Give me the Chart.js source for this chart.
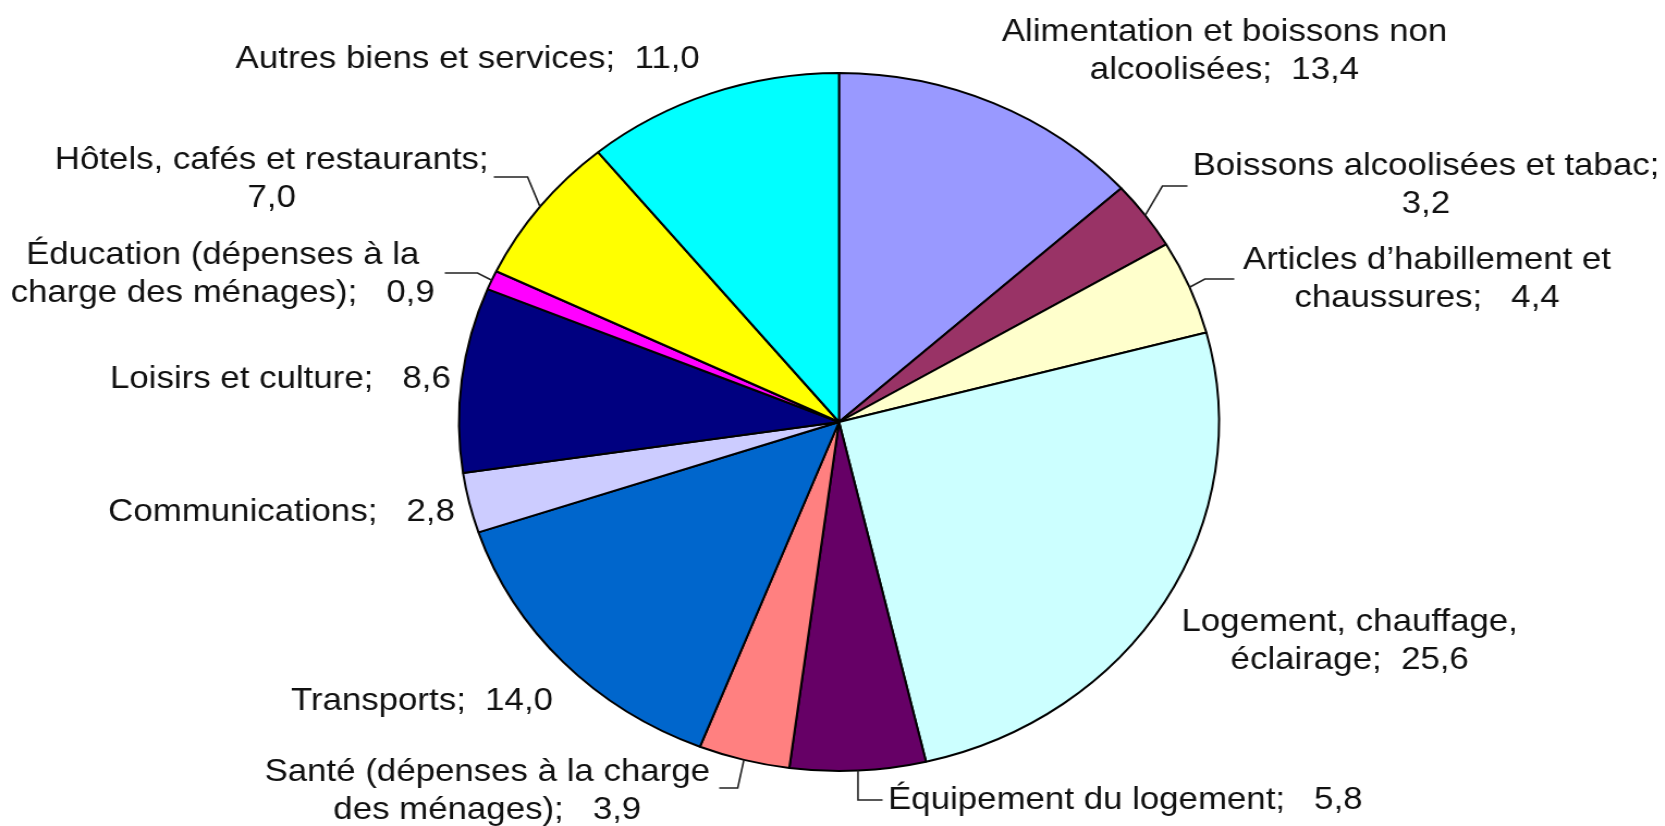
<!DOCTYPE html>
<html lang="fr">
<head>
<meta charset="utf-8">
<title>Structure de la consommation des ménages</title>
<script src="https://cdn.jsdelivr.net/npm/chart.js@4.4.1/dist/chart.umd.min.js"></script>
<style>
    html, body { margin: 0; padding: 0; background: #fff; overflow: hidden; }
    /* the reference picture is stretched horizontally, so the whole chart is too */
    #wrap { width: 1529px; height: 826px; transform: scaleX(1.0889); transform-origin: 0 0; }
</style>
</head>
<body>
<div id="wrap"><canvas id="chart" width="1529" height="826"></canvas></div>
<script>
const categories = [
    "Alimentation et boissons non\nalcoolisées",
    "Boissons alcoolisées et tabac",
    "Articles d’habillement et\nchaussures",
    "Logement, chauffage,\néclairage",
    "Équipement du logement",
    "Santé (dépenses à la charge\ndes ménages)",
    "Transports",
    "Communications",
    "Loisirs et culture",
    "Éducation (dépenses à la\ncharge des ménages)",
    "Hôtels, cafés et restaurants",
    "Autres biens et services",
];
const shares = [13.4, 3.2, 4.4, 25.6, 5.8, 3.9, 14.0, 2.8, 8.6, 0.9, 7.0, 11.0];
const colors = [
    "#9999FF", "#993366", "#FFFFCC", "#CCFFFF", "#660066", "#FF8080",
    "#0066CC", "#CCCCFF", "#000080", "#FF00FF", "#FFFF00", "#00FFFF",
];
// text between "name;" and the value
const separators = ["  ", "\n", "   ", "  ", "   ", "   ", "  ", "   ", "   ", "   ", "\n", "  "];

// label placement relative to the pie centre (px), leaders: elbow + end point
const labelLayout = [
    { x: 354, y: -390, align: "center" },
    { x: 539, y: -256, align: "center", leader: { ex: 297, ey: -236, tx: 320 } },
    { x: 540, y: -162, align: "center", leader: { ex: 336, ey: -143, tx: 363 } },
    { x: 469, y: 200, align: "center" },
    { x: 45, y: 378, align: "left", leader: { ex: null, ey: 378, tx: 40 } },
    { x: -323, y: 350, align: "center", leader: { ex: -93, ey: 366, tx: -110 } },
    { x: -383, y: 279, align: "center" },
    { x: -512, y: 90, align: "center" },
    { x: -513, y: -43, align: "center" },
    { x: -566, y: -167, align: "center", leader: { ex: -332, ey: -149, tx: -362 } },
    { x: -521, y: -262, align: "center", leader: { ex: -286, ey: -245, tx: -317 } },
    { x: -341, y: -363, align: "center" },
];
const LINE_HEIGHT = 38;
const FONT = "32px 'Liberation Sans', Arial, sans-serif";

function formatValue(v) {
    return v.toFixed(1).replace(".", ",");
}

const pieLabels = {
    id: "pieLabels",
    afterDatasetsDraw(chart) {
        const ctx = chart.ctx;
        const arcs = chart.getDatasetMeta(0).data;
        ctx.save();
        ctx.font = FONT;
        ctx.fillStyle = "#111";
        ctx.strokeStyle = "#222";
        ctx.lineWidth = 1.6;
        ctx.textBaseline = "middle";
        arcs.forEach((arc, i) => {
            const cx = arc.x;
            const cy = arc.y;
            const lay = labelLayout[i];
            const text = categories[i] + ";" + separators[i] + formatValue(shares[i]);
            const lines = text.split("\n");
            ctx.textAlign = lay.align;
            lines.forEach((line, k) => {
                ctx.fillText(line, cx + lay.x, cy + lay.y + k * LINE_HEIGHT);
            });
            if (lay.leader) {
                const mid = (arc.startAngle + arc.endAngle) / 2;
                const ax = cx + Math.cos(mid) * arc.outerRadius;
                const ay = cy + Math.sin(mid) * arc.outerRadius;
                const l = lay.leader;
                const elbowX = l.ex === null ? ax : cx + l.ex;
                ctx.beginPath();
                ctx.moveTo(ax, ay);
                ctx.lineTo(elbowX, cy + l.ey);
                ctx.lineTo(cx + l.tx, cy + l.ey);
                ctx.stroke();
            }
        });
        ctx.restore();
    },
};

new Chart(document.getElementById("chart"), {
    type: "pie",
    data: {
        labels: categories,
        datasets: [{
            data: shares,
            backgroundColor: colors,
            borderColor: "#000",
            borderWidth: 2,
        }],
    },
    options: {
        responsive: false,
        animation: false,
        layout: {
            padding: { left: 420.5, right: 408.5, top: 72, bottom: 54 },
        },
        plugins: {
            legend: { display: false },
            tooltip: { enabled: false },
        },
    },
    plugins: [pieLabels],
});
</script>
</body>
</html>
